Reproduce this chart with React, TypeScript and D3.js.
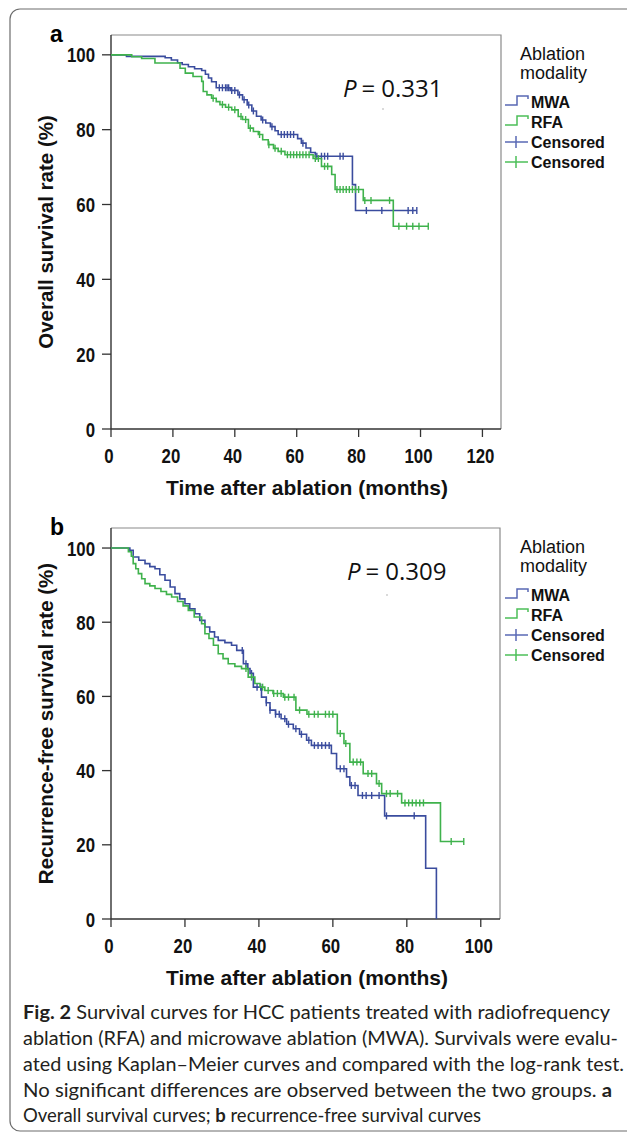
import React from 'react';
import * as d3 from 'd3';

// a: overall survival, step points (months, %)
const osMwaTimes = [0, 5, 17.5, 19.5, 21.5, 23, 25, 27, 29.3, 30.5, 31.5, 32.5, 34, 38.5, 41, 42.5, 44, 45.5, 47, 48.5, 50, 51.5, 53, 54, 60.3, 61.5, 63, 64.5, 66, 78, 79];
const osMwaSurv = [100, 99.6, 99.2, 98.6, 97.9, 97.4, 96.8, 96.3, 95.8, 94.8, 93.8, 92.8, 91.2, 90.5, 89.3, 88.0, 86.6, 85.0, 83.6, 82.6, 81.8, 80.8, 79.7, 78.7, 77.6, 76.4, 75.1, 73.9, 72.9, 65.3, 58.4];
const osMwaEnd = 98.8;
const osMwaCensored = [35, 36, 37, 37.5, 38, 39, 40, 41.5, 43, 44.5, 46, 49, 52, 55, 56, 57, 58, 59, 62, 66.5, 68, 69, 70, 74, 75, 82.5, 87.5, 96, 97.5, 98.8];

const osRfaTimes = [0, 6.7, 9.9, 14.2, 22.3, 24, 26.5, 29.3, 29.8, 31, 32.5, 34, 35.2, 37, 39, 41.1, 42.5, 44.4, 46, 47.6, 49, 50.8, 52.5, 54, 56.2, 65.3, 68, 71.3, 72.4, 81.5, 91.2];
const osRfaSurv = [100, 99.5, 99.0, 97.8, 96.4, 95.1, 94.2, 92.9, 90.2, 89.3, 88.4, 87.5, 86.7, 86.0, 85.3, 83.5, 82.7, 80.4, 79.5, 78.7, 77.3, 76.0, 75.0, 74.2, 73.3, 72.3, 70.2, 68.0, 64.0, 61.1, 54.2];
const osRfaEnd = 102.5;
const osRfaCensored = [33, 36, 38, 40, 42, 43.5, 45, 48, 51, 53, 55, 57, 58, 59, 60, 61, 62, 63, 64, 66, 67, 69, 70, 73, 74, 75, 76, 77, 78, 79, 80, 82, 84, 90, 93, 95.5, 97.5, 99.5, 102.5];

// b: recurrence-free survival
const rfsMwaTimes = [0, 5.1, 6, 7.5, 9.2, 10.5, 11.9, 13.2, 14.6, 16, 17.3, 18.6, 20, 21.3, 22.7, 24, 25.4, 26.7, 28, 29, 30.8, 32.6, 34, 35.8, 37, 37.6, 38.5, 40.7, 42, 43, 44.5, 46, 47.5, 49.3, 51, 52.9, 54.2, 59.6, 61, 63.7, 64.6, 66.8, 74, 85.1, 88];
const rfsMwaSurv = [100, 99.4, 97.6, 96.7, 95.8, 95.0, 94.4, 92.8, 91.3, 89.5, 87.7, 86.3, 85.0, 83.6, 82.3, 80.5, 78.7, 77.4, 76.0, 75.1, 74.5, 73.8, 72.4, 68.8, 67.5, 66.2, 62.5, 59.8, 58.3, 56.3, 55.2, 54.0, 52.5, 51.3, 49.8, 48.2, 46.8, 44.6, 40.5, 38.3, 36.0, 33.3, 27.8, 13.7, 0];
const rfsMwaEnd = 88;
const rfsMwaCensored = [35.5, 36.5, 38, 39.5, 40.5, 42, 43, 44.5, 45.5, 47, 48, 50, 51.5, 53.5, 55, 56, 57, 58, 59, 62, 63, 65, 66, 68, 69, 70.5, 72.5, 74.5, 82];

const rfsRfaTimes = [0, 4.7, 5.5, 6, 6.7, 7.4, 8.3, 9.2, 10.5, 11.9, 13.5, 15, 16.4, 18, 19.5, 20.9, 22.5, 24.5, 25.4, 26.5, 27.7, 29, 30.3, 31.7, 33.5, 35.3, 37.1, 38.9, 40.3, 41.6, 43.8, 46.6, 50, 53, 61.2, 63, 64.6, 68.2, 71.8, 73.2, 78.6, 89.1];
const rfsRfaSurv = [100, 99.0, 97.8, 95.8, 94.4, 93.1, 91.7, 90.4, 89.8, 89.1, 88.3, 87.5, 86.8, 85.6, 84.4, 83.2, 81.4, 79.6, 76.9, 75.6, 73.8, 71.5, 70.2, 68.8, 68.1, 67.5, 65.2, 63.5, 62.5, 61.6, 60.8, 59.8, 56.3, 55.2, 50.0, 47.3, 42.3, 39.2, 36.5, 33.8, 31.3, 20.9];
const rfsRfaEnd = 95.4;
const rfsRfaCensored = [36.5, 38, 41, 42.5, 44, 45, 46, 47, 48, 49.5, 51, 53.5, 55, 56, 58, 59, 60, 62, 63.5, 65.5, 66.5, 67.5, 69.5, 70.5, 72.5, 74.5, 75.5, 77.5, 79.5, 80.5, 81.5, 82.5, 83.5, 84.5, 92, 95.4];

const yTicks = [0, 20, 40, 60, 80, 100];
const osXTicks = [0, 20, 40, 60, 80, 100, 120];
const rfsXTicks = [0, 20, 40, 60, 80, 100];
const legendLabels = ['MWA', 'RFA', 'Censored', 'Censored'];

const captionLines = [
  'Survival curves for HCC patients treated with radiofrequency',
  'ablation (RFA) and microwave ablation (MWA). Survivals were evalu-',
  'ated using Kaplan\u2013Meier curves and compared with the log-rank test.',
  'No significant differences are observed between the two groups. ',
  'Overall survival curves; ',
];

const BLUE = '#3a4c9e';
const GREEN = '#3fb24c';
const LEG_BLUE = '#5868b4';
const LEG_GREEN = '#4cbf58';
const SANS = "'Liberation Sans', Arial, sans-serif";

const survAt = (times, surv, t) => surv[Math.max(0, d3.bisectRight(times, t) - 1)];

// bold condensed tick label (no narrow font installed, so squeeze it)
const Tick = ({ x, y, anchor, children }) => (
  <g transform={`translate(${x},${y}) scale(0.8,1)`}>
    <text textAnchor={anchor} fontFamily={SANS} fontWeight="bold" fontSize={21} fill="#111">{children}</text>
  </g>
);

const Panel = ({ letter, top, bottom, right, xMax, yMax, xTicks, yTitle, pText, series }) => {
  const left = 111;
  const x = d3.scaleLinear().domain([0, xMax]).range([left, right]);
  const y = d3.scaleLinear().domain([0, yMax]).range([bottom, top]);
  const line = d3.line().x(d => x(d[0])).y(d => y(d[1])).curve(d3.curveStepAfter);

  return (
    <g>
      <text x={50} y={top + 7} fontFamily={SANS} fontWeight="bold" fontSize={23}>{letter}</text>
      {/* frame */}
      <path d={`M${left},${top}H${right}V${bottom}`} fill="none" stroke="#8a8a8a" strokeWidth={1.2} />
      <line x1={left} x2={left} y1={top} y2={bottom} stroke="#333" strokeWidth={1.4} />
      <line x1={left} x2={right} y1={bottom} y2={bottom} stroke="#333" strokeWidth={1.4} />
      {yTicks.map(v => (
        <g key={'y' + v}>
          <line x1={left - 9} x2={left} y1={y(v)} y2={y(v)} stroke="#333" strokeWidth={1.3} />
          <Tick x={95} y={y(v) + 7.5} anchor="end">{v}</Tick>
        </g>
      ))}
      {xTicks.map(v => (
        <g key={'x' + v}>
          <line x1={x(v)} x2={x(v)} y1={bottom} y2={bottom + 8} stroke="#333" strokeWidth={1.3} />
          <Tick x={x(v) - 2} y={bottom + 34} anchor="middle">{v}</Tick>
        </g>
      ))}
      <text x={307} y={bottom + 66} textAnchor="middle" fontFamily={SANS} fontWeight="bold" fontSize={21} fill="#111">Time after ablation (months)</text>
      <text transform={`translate(53,${(top + bottom) / 2}) rotate(-90)`} textAnchor="middle" fontFamily={SANS} fontWeight="bold" fontSize={20.5} fill="#111">{yTitle}</text>

      {series.map((s, i) => {
        const pts = s.times.map((t, k) => [t, s.surv[k]]);
        pts.push([s.end, s.surv[s.surv.length - 1]]);
        return (
          <g key={'s' + i}>
            <path d={line(pts)} fill="none" stroke={s.color} strokeWidth={1.6} />
            {s.censored.map((c, k) => {
              const cy = y(survAt(s.times, s.surv, c));
              return <line key={k} x1={x(c)} x2={x(c)} y1={cy - 3.5} y2={cy + 3.5} stroke={s.color} strokeWidth={1.4} />;
            })}
          </g>
        );
      })}

      <text x={pText.x} y={pText.y} fontFamily="'Open Sans', sans-serif" fontSize={24} fill="#111">
        <tspan fontStyle="italic">P</tspan>
        <tspan dx={5}>=</tspan>
        <tspan dx={6}>{pText.value}</tspan>
      </text>

      {/* legend */}
      <text x={520} y={top + 25} fontFamily={SANS} fontSize={18} fill="#111">Ablation</text>
      <text x={520} y={top + 44} fontFamily={SANS} fontSize={18} fill="#111">modality</text>
      {legendLabels.map((lab, i) => {
        const ly = top + 67 + i * 20;
        const col = i % 2 === 0 ? LEG_BLUE : LEG_GREEN;
        return (
          <g key={lab + i}>
            {i < 2 ? (
              <path d={`M505,${ly + 3}H517V${ly - 6}H528V${ly - 3}`} fill="none" stroke={col} strokeWidth={1.5} />
            ) : (
              <g stroke={col} strokeWidth={1.5}>
                <line x1={505} x2={528} y1={ly} y2={ly} />
                <line x1={516} x2={516} y1={ly - 6} y2={ly + 6} />
              </g>
            )}
            <text x={531} y={ly + 6} fontFamily={SANS} fontWeight="bold" fontSize={16} fill="#111">{lab}</text>
          </g>
        );
      })}
    </g>
  );
};

const App = () => {
  const capX = 23;
  const capY = [1019, 1045, 1071, 1097, 1122];
  const capLen = [587, 595, 601, 589];
  const capFont = "Lato, 'Open Sans', sans-serif";
  return (
    <svg width={627} height={1136} style={{ position: 'absolute', left: 0, top: 0, background: '#fff' }}>
      <rect x={10} y={9} width={640} height={1122} rx={10} fill="#fff" stroke="#6d6d6d" strokeWidth={1.2} />
      <Panel
        letter="a" top={35} bottom={429} right={501} xMax={126} yMax={105.3} xTicks={osXTicks}
        yTitle="Overall survival rate (%)" pText={{ x: 343, y: 97, value: '0.331' }}
        series={[
          { times: osMwaTimes, surv: osMwaSurv, end: osMwaEnd, censored: osMwaCensored, color: BLUE },
          { times: osRfaTimes, surv: osRfaSurv, end: osRfaEnd, censored: osRfaCensored, color: GREEN },
        ]}
      />
      <Panel
        letter="b" top={528} bottom={919} right={500} xMax={105.2} yMax={105.4} xTicks={rfsXTicks}
        yTitle="Recurrence-free survival rate (%)" pText={{ x: 347, y: 580, value: '0.309' }}
        series={[
          { times: rfsMwaTimes, surv: rfsMwaSurv, end: rfsMwaEnd, censored: rfsMwaCensored, color: BLUE },
          { times: rfsRfaTimes, surv: rfsRfaSurv, end: rfsRfaEnd, censored: rfsRfaCensored, color: GREEN },
        ]}
      />
      <circle cx={383} cy={109} r={0.8} fill="#aaa" />
      <circle cx={387} cy={595} r={0.8} fill="#aaa" />
      <g fontFamily={capFont} fontSize={18.5} fill="#231f20">
        <text x={capX} y={capY[0]} textLength={capLen[0]} lengthAdjust="spacingAndGlyphs">
          <tspan fontWeight="bold">Fig. 2</tspan>{'  ' + captionLines[0]}
        </text>
        <text x={capX} y={capY[1]} textLength={capLen[1]} lengthAdjust="spacingAndGlyphs">{captionLines[1]}</text>
        <text x={capX} y={capY[2]} textLength={capLen[2]} lengthAdjust="spacingAndGlyphs">{captionLines[2]}</text>
        <text x={capX} y={capY[3]} textLength={capLen[3]} lengthAdjust="spacingAndGlyphs">
          {captionLines[3]}<tspan fontWeight="bold">a</tspan>
        </text>
        <text x={capX} y={capY[4]}>
          {captionLines[4]}<tspan fontWeight="bold">b</tspan>{' recurrence-free survival curves'}
        </text>
      </g>
    </svg>
  );
};

export default App;
